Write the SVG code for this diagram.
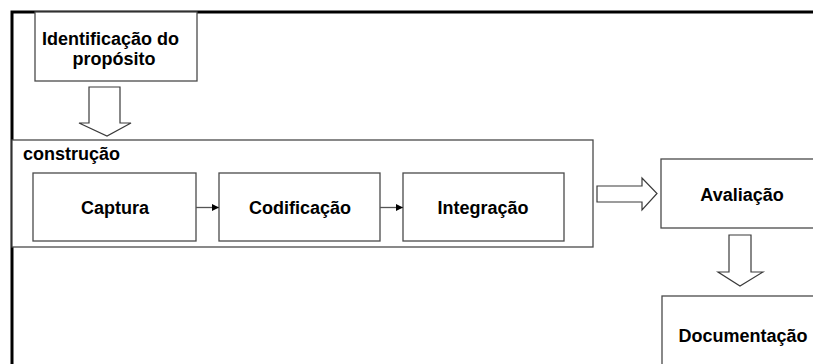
<svg xmlns="http://www.w3.org/2000/svg" width="813" height="364" viewBox="0 0 813 364">
  <defs>
    <marker id="tri" viewBox="0 0 10 10" refX="10" refY="5" markerWidth="7" markerHeight="7" markerUnits="userSpaceOnUse" orient="auto">
      <path d="M0,0 L10,5 L0,10 Z" fill="#000"/>
    </marker>
    <style>
      .box { fill: #fff; stroke: #4a4a4a; stroke-width: 1.3; }
      .frame { fill: none; stroke: #000; stroke-width: 3; }
      .big { fill: #fff; stroke: #3a3a3a; stroke-width: 1.2; stroke-linejoin: miter; }
      .link { fill: none; stroke: #555; stroke-width: 1.3; }
      .lbl { font-family: "Liberation Sans", Arial, sans-serif; font-weight: bold; font-size: 18px; fill: #000; }
    </style>
  </defs>
  <rect width="813" height="364" fill="#fff"/>

  <!-- page frame: top and left rules -->
  <path class="frame" d="M12,364 L12,12 L813,12"/>

  <g id="identificacao">
    <rect class="box" x="35" y="12" width="162" height="69"/>
    <text class="lbl" x="42" y="45">Identificação do</text>
    <text class="lbl" x="114" y="65" text-anchor="middle">propósito</text>
  </g>

  <g id="construcao">
    <rect class="box" x="12" y="140" width="581" height="107"/>
    <text class="lbl" x="23" y="160">construção</text>
  </g>

  <g id="captura">
    <rect class="box" x="33" y="173" width="163" height="68"/>
    <text class="lbl" x="115" y="214" text-anchor="middle">Captura</text>
  </g>

  <g id="codificacao">
    <rect class="box" x="219" y="173" width="161" height="68"/>
    <text class="lbl" x="300" y="214" text-anchor="middle">Codificação</text>
  </g>

  <g id="integracao">
    <rect class="box" x="403" y="173" width="161" height="68"/>
    <text class="lbl" x="483" y="214" text-anchor="middle">Integração</text>
  </g>

  <g id="avaliacao">
    <rect class="box" x="661" y="159" width="160" height="69"/>
    <text class="lbl" x="742" y="201" text-anchor="middle">Avaliação</text>
  </g>

  <g id="documentacao">
    <rect class="box" x="662" y="296" width="160" height="80"/>
    <text class="lbl" x="743" y="342" text-anchor="middle">Documentação</text>
  </g>

  <g id="connectors">
    <!-- block arrows -->
    <path class="big" d="M89,87 L120,87 L120,123 L131,123 L107,136 L79,123 L89,123 Z"/>
    <path class="big" d="M597,186 L642,186 L642,178 L657,193.5 L642,210 L642,202 L597,202 Z"/>
    <path class="big" d="M729,235 L751,235 L751,272 L763,272 L740,286 L718,272 L729,272 Z"/>
    <!-- step links inside construção -->
    <line class="link" x1="196" y1="207.5" x2="219" y2="207.5" marker-end="url(#tri)"/>
    <line class="link" x1="380" y1="207.5" x2="403" y2="207.5" marker-end="url(#tri)"/>
  </g>
</svg>
